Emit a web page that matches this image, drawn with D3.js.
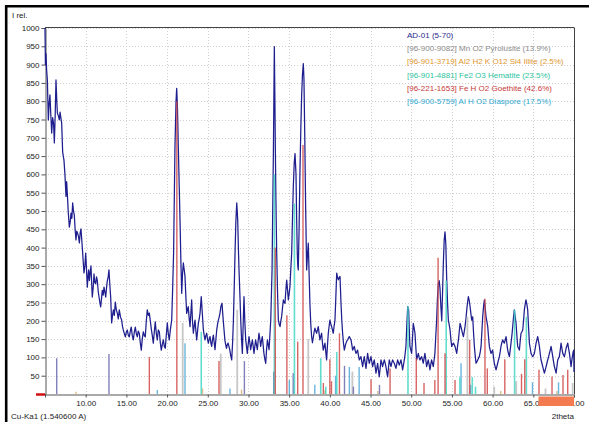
<!DOCTYPE html>
<html><head><meta charset="utf-8">
<script src="https://cdn.jsdelivr.net/npm/d3@7"></script>
<style>html,body{margin:0;padding:0;background:#fff;}svg{display:block;font-family:"Liberation Sans",Arial,sans-serif;}</style>
</head><body><svg id="c" width="593" height="422"></svg>
<script>
// ---- data ----
const xTicks = [10,15,20,25,30,35,40,45,50,55,60,65,70];
const yTicks = [50,100,150,200,250,300,350,400,450,500,550,600,650,700,750,800,850,900,950,1000];
const legendLabels = ["AD-01 (5-70)","[96-900-9082] Mn O2 Pyrolusite (13.9%)","[96-901-3719] Al2 H2 K O12 Si4 Illite (2.5%)","[96-901-4881] Fe2 O3 Hematite (23.5%)","[96-221-1653] Fe H O2 Goethite (42.6%)","[96-900-5759] Al H O2 Diaspore (17.5%)"];
const pattern = [
[5.00,1000],[5.05,900],[5.12,930],[5.20,885],[5.29,858],[5.41,749],[5.50,790],[5.61,817],[5.72,760],[5.82,713],[5.94,755],[6.05,740],[6.15,686],[6.25,760],[6.35,858],[6.45,800],[6.52,768],[6.64,760],[6.76,749],[6.85,770],[6.93,758],[7.05,740],[7.17,661],[7.33,639],[7.45,600],[7.58,540],[7.66,580],[7.74,549],[7.85,500],[7.99,456],[8.10,470],[8.19,494],[8.30,480],[8.40,522],[8.50,500],[8.60,489],[8.70,450],[8.81,421],[8.90,445],[9.01,439],[9.12,430],[9.22,413],[9.32,440],[9.42,451],[9.52,420],[9.63,385],[9.70,360],[9.79,331],[9.90,350],[10.00,385],[10.10,340],[10.20,292],[10.28,320],[10.37,339],[10.45,310],[10.53,328],[10.65,350],[10.72,310],[10.81,265],[10.92,290],[11.02,328],[11.12,305],[11.23,301],[11.33,320],[11.43,310],[11.54,280],[11.64,265],[11.74,250],[11.84,238],[11.94,260],[12.04,283],[12.15,270],[12.25,292],[12.35,280],[12.46,265],[12.56,290],[12.66,310],[12.76,320],[12.86,339],[12.96,300],[13.07,265],[13.19,194],[13.30,215],[13.40,230],[13.52,215],[13.64,251],[13.76,230],[13.89,221],[14.00,205],[14.13,230],[14.28,210],[14.42,202],[14.52,185],[14.62,175],[14.75,165],[14.87,156],[15.00,170],[15.11,175],[15.24,160],[15.36,156],[15.48,172],[15.60,183],[15.72,160],[15.85,148],[15.98,170],[16.10,183],[16.22,165],[16.34,156],[16.46,172],[16.59,165],[16.71,140],[16.83,120],[16.95,150],[17.08,170],[17.20,160],[17.32,156],[17.45,200],[17.57,230],[17.70,215],[17.82,221],[17.94,200],[18.06,178],[18.18,160],[18.31,139],[18.43,170],[18.55,197],[18.68,165],[18.80,148],[18.92,175],[19.05,170],[19.17,140],[19.29,120],[19.41,135],[19.54,148],[19.66,130],[19.78,125],[19.90,160],[20.03,194],[20.15,165],[20.27,148],[20.40,175],[20.57,202],[20.70,300],[20.80,385],[20.97,675],[21.10,800],[21.18,835],[21.28,780],[21.38,675],[21.50,560],[21.59,475],[21.70,360],[21.80,275],[21.90,330],[22.00,358],[22.10,340],[22.20,322],[22.30,270],[22.41,220],[22.50,230],[22.60,239],[22.70,210],[22.82,184],[22.92,220],[23.02,257],[23.12,200],[23.23,166],[23.33,185],[23.43,202],[23.53,175],[23.64,148],[23.74,170],[23.84,193],[23.95,205],[24.05,221],[24.20,266],[24.33,220],[24.46,175],[24.56,160],[24.66,148],[24.77,160],[24.87,166],[24.97,150],[25.07,139],[25.18,150],[25.28,157],[25.38,140],[25.48,130],[25.59,150],[25.69,161],[25.79,140],[25.89,121],[26.00,150],[26.10,175],[26.20,190],[26.30,202],[26.40,210],[26.50,221],[26.62,240],[26.75,248],[26.82,225],[26.90,202],[27.00,175],[27.10,148],[27.20,135],[27.30,125],[27.40,135],[27.50,139],[27.60,130],[27.70,121],[27.82,105],[27.94,93],[28.05,140],[28.15,202],[28.25,290],[28.35,385],[28.45,470],[28.56,522],[28.62,500],[28.68,475],[28.76,400],[28.84,339],[28.95,270],[29.05,202],[29.15,150],[29.25,111],[29.35,190],[29.45,266],[29.55,200],[29.66,148],[29.76,130],[29.86,111],[29.96,135],[30.07,157],[30.17,140],[30.27,121],[30.37,135],[30.48,148],[30.58,130],[30.68,111],[30.78,130],[30.88,148],[30.98,135],[31.09,121],[31.19,145],[31.29,166],[31.40,150],[31.50,130],[31.60,145],[31.70,157],[31.80,135],[31.90,111],[32.01,95],[32.12,84],[32.22,120],[32.33,148],[32.43,135],[32.53,121],[32.63,160],[32.74,202],[32.83,280],[32.90,339],[32.98,500],[33.07,675],[33.18,949],[33.25,800],[33.30,675],[33.38,520],[33.47,385],[33.57,280],[33.67,202],[33.78,190],[33.88,184],[33.98,200],[34.08,212],[34.18,235],[34.29,257],[34.39,250],[34.49,248],[34.60,285],[34.70,311],[34.80,285],[34.90,257],[35.00,275],[35.10,293],[35.20,340],[35.31,385],[35.41,480],[35.51,566],[35.62,630],[35.72,657],[35.84,602],[35.92,480],[36.00,385],[36.06,350],[36.12,339],[36.22,450],[36.33,612],[36.43,720],[36.53,812],[36.63,870],[36.74,903],[36.82,860],[36.92,700],[37.02,520],[37.15,339],[37.25,380],[37.35,412],[37.45,330],[37.56,241],[37.66,190],[37.76,157],[37.86,140],[37.97,155],[38.07,170],[38.17,180],[38.27,172],[38.37,166],[38.48,175],[38.58,184],[38.68,165],[38.78,148],[38.89,158],[38.99,166],[39.09,140],[39.19,120],[39.30,130],[39.40,139],[39.50,115],[39.60,93],[39.70,130],[39.81,166],[39.91,185],[40.01,202],[40.11,192],[40.22,184],[40.32,175],[40.42,166],[40.52,185],[40.63,202],[40.73,260],[40.84,330],[40.94,320],[41.04,312],[41.14,318],[41.25,321],[41.37,248],[41.47,200],[41.57,166],[41.67,140],[41.78,120],[41.88,130],[41.98,139],[42.09,145],[42.19,148],[42.29,153],[42.39,157],[42.50,152],[42.60,148],[42.70,135],[42.80,120],[42.90,125],[43.00,130],[43.10,120],[43.21,111],[43.31,115],[43.41,120],[43.52,105],[43.62,93],[43.72,98],[43.82,102],[43.93,88],[44.03,75],[44.13,90],[44.23,102],[44.34,85],[44.44,70],[44.54,90],[44.64,111],[44.75,95],[44.85,84],[44.95,93],[45.05,102],[45.16,88],[45.26,75],[45.36,85],[45.46,93],[45.57,75],[45.67,57],[45.77,70],[45.87,84],[45.97,65],[46.07,47],[46.18,70],[46.28,93],[46.38,85],[46.48,75],[46.59,85],[46.69,93],[46.79,85],[46.89,75],[47.00,60],[47.10,47],[47.20,70],[47.30,93],[47.40,85],[47.51,75],[47.61,85],[47.71,93],[47.82,88],[47.92,84],[48.02,77],[48.12,70],[48.23,82],[48.33,93],[48.43,86],[48.53,79],[48.64,86],[48.74,93],[48.84,80],[48.94,66],[49.05,80],[49.15,93],[49.25,110],[49.35,130],[49.46,190],[49.57,239],[49.68,230],[49.76,180],[49.84,130],[49.95,120],[50.05,111],[50.15,150],[50.25,193],[50.36,180],[50.46,166],[50.56,130],[50.66,93],[50.77,102],[50.87,111],[50.97,100],[51.07,93],[51.17,98],[51.28,102],[51.38,93],[51.48,84],[51.58,98],[51.68,111],[51.79,93],[51.89,75],[51.99,84],[52.09,93],[52.20,80],[52.30,66],[52.40,80],[52.50,93],[52.61,84],[52.71,75],[52.81,93],[52.91,111],[53.02,160],[53.12,200],[53.22,260],[53.32,300],[53.43,310],[53.53,290],[53.64,240],[53.75,200],[53.85,280],[53.95,360],[54.05,420],[54.15,443],[54.25,410],[54.35,320],[54.46,250],[54.56,202],[54.66,190],[54.77,175],[54.87,150],[54.97,130],[55.08,135],[55.18,139],[55.28,135],[55.38,130],[55.49,120],[55.59,111],[55.69,130],[55.80,148],[55.90,170],[56.00,193],[56.10,185],[56.20,175],[56.31,165],[56.41,157],[56.51,170],[56.61,184],[56.72,205],[56.82,230],[56.92,250],[57.02,266],[57.13,255],[57.23,239],[57.33,220],[57.43,202],[57.55,211],[57.65,170],[57.76,130],[57.86,105],[57.96,84],[58.07,88],[58.17,93],[58.27,98],[58.37,102],[58.48,115],[58.58,130],[58.68,170],[58.78,211],[58.89,240],[58.99,257],[59.09,235],[59.19,211],[59.30,198],[59.40,184],[59.50,155],[59.60,130],[59.70,120],[59.80,111],[59.90,115],[60.00,120],[60.11,100],[60.21,84],[60.31,75],[60.42,66],[60.52,75],[60.62,84],[60.72,93],[60.83,102],[60.93,115],[61.03,130],[61.13,140],[61.24,148],[61.34,143],[61.44,139],[61.55,148],[61.65,157],[61.75,138],[61.85,120],[61.96,110],[62.06,102],[62.16,120],[62.26,139],[62.37,160],[62.47,184],[62.57,210],[62.67,230],[62.78,210],[62.88,193],[62.98,160],[63.08,130],[63.19,125],[63.29,120],[63.39,145],[63.49,166],[63.60,170],[63.70,175],[63.80,200],[63.90,230],[64.00,245],[64.10,257],[64.21,245],[64.31,230],[64.41,185],[64.52,139],[64.62,125],[64.72,111],[64.83,106],[64.93,102],[65.03,106],[65.13,111],[65.24,125],[65.34,139],[65.44,148],[65.54,157],[65.65,143],[65.75,130],[65.85,110],[65.95,93],[66.06,84],[66.16,75],[66.26,66],[66.36,57],[66.47,66],[66.57,75],[66.67,84],[66.77,93],[66.88,102],[66.98,111],[67.08,120],[67.18,130],[67.29,116],[67.39,102],[67.49,88],[67.59,75],[67.70,66],[67.80,57],[67.90,75],[68.00,93],[68.10,98],[68.20,102],[68.31,120],[68.41,139],[68.51,125],[68.62,111],[68.72,106],[68.82,102],[68.93,113],[69.03,125],[69.13,132],[69.23,139],[69.33,125],[69.44,111],[69.54,93],[69.64,75],[69.72,90],[69.80,102],[69.90,115],[69.97,120],[70.00,60]
];
const pyrolusiteSticks = [[21.92,194],[26.6,110],[28.62,230],[37.35,150],[42.77,61],[56.9,211],[60.2,20],[62.9,35],[66.5,15],[69.84,30]];
const illiteSticks = [[8.8,6],[24.35,15],[29.15,12],[39.4,10],[45.9,8],[61.0,8],[67.9,8]];
const hematiteSticks = [[24.2,170],[33.18,600],[35.65,520],[38.88,98],[39.5,20],[40.85,115],[49.6,240],[54.3,310],[55.98,46],[57.5,46],[57.9,20],[62.7,230],[64.15,211]];
const goethiteSticks = [[17.82,101],[21.2,800],[26.38,90],[33.3,400],[34.72,215],[36.05,143],[36.7,680],[39.2,30],[40.0,95],[40.2,35],[41.18,166],[45.06,40],[47.4,70],[50.62,98],[51.57,30],[52.9,38],[53.3,372],[54.15,111],[55.38,38],[57.18,148],[59.06,260],[59.35,70],[61.5,95],[63.55,55],[63.95,95],[65.7,66],[67.3,48],[68.65,52],[69.23,66]];
const diasporeSticks = [[18.8,11],[22.2,139],[27.73,15],[35.02,38],[38.15,25],[40.7,50],[42.4,74],[43.6,74],[56.12,84],[57.3,25],[64.9,32],[68.1,32]];
const otherSticks = [[6.44,98],[12.86,109],[29.5,90],[33.1,61],[35.5,57],[41.8,77],[42.9,20],[46.1,25]];

// ---- drawing ----
const svg = d3.select("#c");
const x = d3.scaleLinear().domain([5,70]).range([45,574]);
const y = d3.scaleLinear().domain([0,1000]).range([394,28]);
const font = 8;

// frame
svg.append("line").attr("x1",5).attr("x2",589).attr("y1",6.2).attr("y2",6.2).attr("stroke","#000").attr("stroke-width",2.6);
svg.append("line").attr("x1",6.2).attr("x2",6.2).attr("y1",5).attr("y2",422).attr("stroke","#000").attr("stroke-width",2.6);

// grid
const grid = svg.append("g").attr("stroke","#cfcfcf").attr("stroke-dasharray","1,2").attr("stroke-width",1);
yTicks.forEach(t=>grid.append("line").attr("x1",x(5)).attr("x2",x(70)).attr("y1",Math.round(y(t))+0.5).attr("y2",Math.round(y(t))+0.5));
xTicks.forEach(t=>grid.append("line").attr("x1",Math.round(x(t))+0.5).attr("x2",Math.round(x(t))+0.5).attr("y1",y(1000)).attr("y2",y(0)));

// plot box (top, right)
svg.append("line").attr("x1",x(5)).attr("x2",x(70)).attr("y1",27.5).attr("y2",27.5).attr("stroke","#444").attr("stroke-width",1);
svg.append("line").attr("x1",x(70)+0.5).attr("x2",x(70)+0.5).attr("y1",27.5).attr("y2",y(0)).attr("stroke","#444").attr("stroke-width",1);

// axes
const yAxis = d3.axisLeft(y).tickValues(yTicks).tickSize(4).tickPadding(2).tickFormat(d3.format("d"));
const gy = svg.append("g").attr("transform",`translate(${x(5)+0.5},0)`).call(yAxis);
gy.select(".domain").attr("stroke","#555");
gy.selectAll(".tick line").attr("stroke","#555");
gy.selectAll("text").attr("font-size",font).attr("fill","#222").attr("font-family","Liberation Sans, Arial, sans-serif");

const xAxis = d3.axisBottom(x).tickValues(xTicks).tickSize(3).tickPadding(3).tickFormat(d3.format(".2f"));
const gx = svg.append("g").attr("transform",`translate(0,${y(0)+0.5})`).call(xAxis);
gx.select(".domain").attr("stroke","#555");
gx.selectAll(".tick line").attr("stroke","#555");
gx.selectAll("text").attr("font-size",font).attr("fill","#222").attr("font-family","Liberation Sans, Arial, sans-serif");

// pattern line
const line = d3.line().x(d=>x(d[0])).y(d=>y(d[1]));
svg.append("path").datum(pattern).attr("d",line).attr("fill","none").attr("stroke","#1e1e8e").attr("stroke-width",1.25).attr("stroke-linejoin","round");

// sticks
function sticks(data,color,w){
  svg.append("g").selectAll("line").data(data).join("line")
    .attr("x1",d=>x(d[0])).attr("x2",d=>x(d[0])).attr("y1",y(0)).attr("y2",d=>y(d[1]))
    .attr("stroke",color).attr("stroke-width",w).attr("stroke-opacity",0.85);
}
sticks(pyrolusiteSticks,"#bdbdbd",1.8);
sticks(illiteSticks,"#ddb070",1.4);
sticks(otherSticks,"#6a6aae",1.4);
sticks(diasporeSticks,"#4ea8d8",1.4);
sticks(hematiteSticks,"#45d6c4",1.6);
sticks(goethiteSticks,"#d04848",1.4);

// decorations
svg.append("line").attr("x1",36).attr("x2",x(5)).attr("y1",y(0)+0.5).attr("y2",y(0)+0.5).attr("stroke","#d01010").attr("stroke-width",2.5);
svg.append("rect").attr("x",538.5).attr("y",396.5).attr("width",x(70)-538.5).attr("height",9.5).attr("fill","#f47a50");

// labels
svg.append("text").attr("x",12).attr("y",18).attr("font-size",font).attr("fill","#222").text("I rel.");
svg.append("text").attr("x",11).attr("y",419).attr("font-size",font).attr("fill","#222").text("Cu-Ka1 (1.540600 A)");
svg.append("text").attr("x",x(70)).attr("y",419).attr("text-anchor","end").attr("font-size",font).attr("fill","#222").text("2theta");

// legend
const legendColors = ["#2a2a8c","#8a8a8a","#e0962e","#2ec4a0","#c83838","#30a8d0"];
svg.append("g").selectAll("text").data(legendLabels).join("text")
  .attr("x",407).attr("y",(d,i)=>38+i*13.2).attr("font-size",font)
  .attr("fill",(d,i)=>legendColors[i]).text(d=>d);
</script></body></html>
